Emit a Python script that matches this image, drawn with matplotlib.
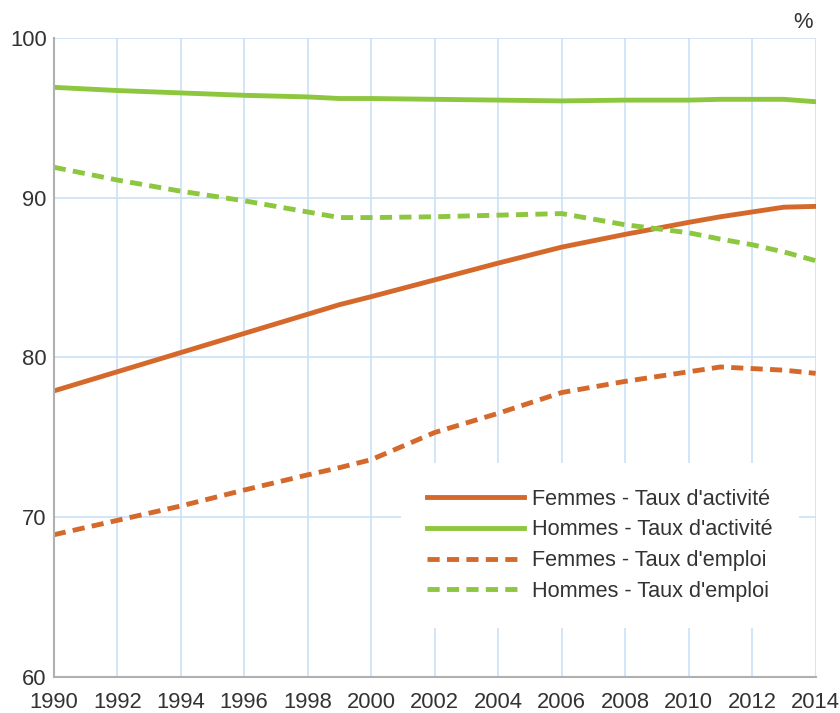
import matplotlib.pyplot as plt

plt.rcParams['font.family'] = ['Liberation Sans', 'DejaVu Sans']

annees = [1990, 1992, 1994, 1996, 1998, 1999, 2000, 2002, 2004, 2006, 2008, 2010, 2011, 2012, 2013, 2014]
femmes_activite = [77.9, 79.1, 80.3, 81.5, 82.7, 83.3, 83.8, 84.85, 85.9, 86.9, 87.7, 88.45, 88.8, 89.1, 89.4, 89.45]
hommes_activite = [96.9, 96.7, 96.55, 96.4, 96.3, 96.2, 96.2, 96.15, 96.1, 96.05, 96.1, 96.1, 96.15, 96.15, 96.15, 96.0]
femmes_emploi = [68.9, 69.8, 70.7, 71.7, 72.65, 73.1, 73.6, 75.3, 76.5, 77.8, 78.5, 79.1, 79.4, 79.3, 79.2, 79.0]
hommes_emploi = [91.9, 91.1, 90.4, 89.8, 89.1, 88.75, 88.75, 88.8, 88.9, 89.0, 88.3, 87.8, 87.4, 87.05, 86.6, 86.05]

orange = '#d4692b'
vert = '#8dc63f'
grille = '#cae2f6'

fig = plt.figure(figsize=(8.4, 7.13), dpi=100)
ax = fig.add_axes([0.064, 0.0505, 0.907, 0.8965])

dash = (0, (2.5, 1.5))
lw = 3.5
ax.plot(annees, femmes_activite, color=orange, lw=lw, label="Femmes - Taux d'activité", zorder=3)
ax.plot(annees, hommes_activite, color=vert, lw=lw, label="Hommes - Taux d'activité", zorder=3)
ax.plot(annees, femmes_emploi, color=orange, lw=lw, ls=dash, label="Femmes - Taux d'emploi", zorder=3)
ax.plot(annees, hommes_emploi, color=vert, lw=lw, ls=dash, label="Hommes - Taux d'emploi", zorder=3)

ax.set_xlim(1990, 2014)
ax.set_ylim(60, 100)
ax.set_xticks(range(1990, 2015, 2))
ax.set_yticks([60, 70, 80, 90, 100])
ax.grid(True, color=grille, lw=1.2, zorder=0)
ax.tick_params(length=0, labelsize=15.8, labelcolor='#333333')
ax.tick_params(axis='y', pad=5)
ax.tick_params(axis='x', pad=11)

for s in ['top', 'right']:
    ax.spines[s].set_visible(False)
for s in ['left', 'bottom']:
    ax.spines[s].set_color('#b0b0b0')
    ax.spines[s].set_linewidth(1.5)
    ax.spines[s].set_zorder(4)

leg = ax.legend(loc='center', bbox_to_anchor=(0.7165, 0.206), fontsize=15.6,
                handlelength=4.5, handletextpad=0.37, labelspacing=0.45,
                frameon=True, fancybox=False, borderpad=1.2)
leg.get_frame().set_edgecolor('none')
leg.get_frame().set_facecolor('white')
leg.get_frame().set_alpha(1)
for t in leg.get_texts():
    t.set_color('#333333')

fig.text(803 / 840, 1 - 22 / 713, '%', ha='center', va='center', fontsize=15.8, color='#333333')

fig.savefig('out.png', dpi=100)
